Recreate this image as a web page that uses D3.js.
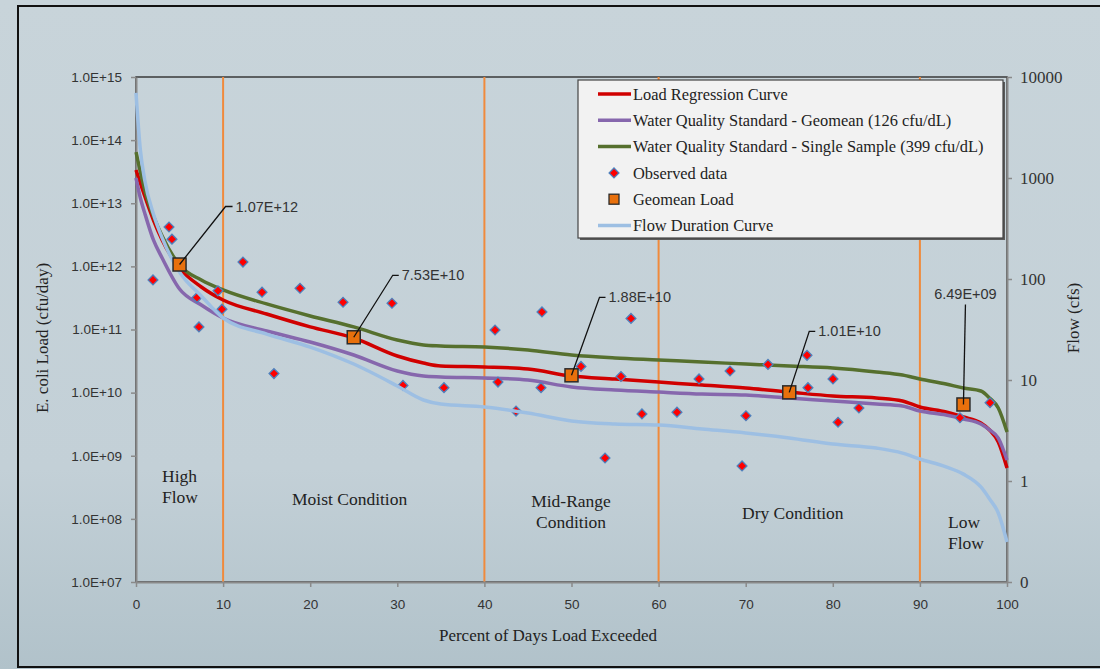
<!DOCTYPE html>
<html>
<head>
<meta charset="utf-8">
<script src="https://cdn.jsdelivr.net/npm/d3@7"></script>
<style>
  html, body { margin: 0; padding: 0; background: #c6d3d9; }
  svg { display: block; }
</style>
</head>
<body>
<div id="chart"></div>
<script>
// percent of days exceeded (shared grid for the curves)
const pctGrid = [0, 0.5, 1, 2, 3, 5, 7.5, 10, 15, 20, 25, 30, 33, 35, 40, 45, 50, 55, 60, 65, 70, 75, 80, 85, 88, 90, 93, 95, 97, 98, 99, 100];

// load curves (cfu/day)
const loadRegression = [3.36e13, 2.09e13, 1.30e13, 5.43e12, 2.62e12, 9.42e11, 4.71e11, 2.93e11, 1.76e11, 1.10e11, 7.33e10, 3.80e10, 2.94e10, 2.64e10, 2.55e10, 2.37e10, 1.83e10, 1.64e10, 1.47e10, 1.32e10, 1.18e10, 1.02e10, 8.85e9, 8.22e9, 7.37e9, 5.92e9, 4.93e9, 4.11e9, 3.30e9, 2.56e9, 1.65e9, 6.40e8];
const wqsGeomean = [2.51e13, 1.21e13, 7.01e12, 2.62e12, 1.36e12, 4.38e11, 2.44e11, 1.52e11, 9.46e10, 6.34e10, 3.94e10, 2.20e10, 1.83e10, 1.77e10, 1.71e10, 1.58e10, 1.23e10, 1.10e10, 1.02e10, 9.51e9, 9.17e9, 8.22e9, 7.37e9, 6.61e9, 6.14e9, 5.12e9, 4.43e9, 3.82e9, 3.18e9, 2.56e9, 1.91e9, 8.57e8];
const wqsSingle = [6.48e13, 3.13e13, 1.62e13, 6.28e12, 3.03e12, 1.05e12, 6.08e11, 4.23e11, 2.54e11, 1.64e11, 1.10e11, 6.82e10, 5.68e10, 5.48e10, 5.28e10, 4.73e10, 3.94e10, 3.54e10, 3.29e10, 3.05e10, 2.84e10, 2.64e10, 2.45e10, 2.12e10, 1.90e10, 1.64e10, 1.37e10, 1.18e10, 1.06e10, 8.22e9, 5.70e9, 2.38e9];

// flow duration curve (cfs), secondary axis
const flowCfs = [6950, 1893, 955, 440, 255, 117, 67.9, 41.1, 28.5, 21.2, 14.4, 8.73, 6.34, 5.78, 5.41, 4.71, 3.93, 3.67, 3.58, 3.27, 2.99, 2.67, 2.32, 2.12, 1.89, 1.65, 1.38, 1.17, 0.873, 0.664, 0.482, 0.249];

// observed samples
const obsPct = [1.95, 3.79, 4.13, 7.0, 7.23, 9.41, 9.87, 12.28, 14.47, 15.84, 18.83, 23.77, 29.39, 30.65, 35.36, 41.22, 41.56, 43.63, 46.61, 46.5, 51.09, 53.85, 55.68, 56.83, 58.09, 62.11, 64.64, 68.2, 70.03, 69.58, 72.56, 77.04, 77.15, 80.02, 80.6, 83.0, 94.6, 98.05];
const obsLoad = [6.1e11, 4.2e12, 2.7e12, 3.2e11, 1.1e11, 4.1e11, 2.1e11, 1.17e12, 3.9e11, 2.0e10, 4.5e11, 2.7e11, 2.6e11, 1.3e10, 1.2e10, 9.8e10, 1.47e10, 5.1e9, 1.9e11, 1.2e10, 2.6e10, 9.2e8, 1.8e10, 1.5e11, 4.6e9, 4.9e9, 1.65e10, 2.2e10, 4.3e9, 6.9e8, 2.8e10, 3.9e10, 1.2e10, 1.65e10, 3.4e9, 5.7e9, 4.0e9, 6.9e9];

// geomean load per flow regime
const geoPct = [5, 25, 50, 75, 95];
const geoLoad = [1.07e12, 7.53e10, 1.88e10, 1.01e10, 6.49e9];
const geoLabels = ["1.07E+12", "7.53E+10", "1.88E+10", "1.01E+10", "6.49E+09"];

// flow regime boundaries and names
const regimeBreaks = [10, 40, 60, 90];
const regimeNames = [["High", "Flow"], ["Moist Condition"], ["Mid-Range", "Condition"], ["Dry Condition"], ["Low", "Flow"]];

const xTicks = [0, 10, 20, 30, 40, 50, 60, 70, 80, 90, 100];
const loadTicks = [1e7, 1e8, 1e9, 1e10, 1e11, 1e12, 1e13, 1e14, 1e15];
const flowTicks = [0.1, 1, 10, 100, 1000, 10000];

const legendItems = ["Load Regression Curve", "Water Quality Standard - Geomean (126 cfu/dL)", "Water Quality Standard - Single Sample (399 cfu/dL)", "Observed data", "Geomean Load", "Flow Duration Curve"];

// ---------- drawing ----------
const width = 1100, height = 669;
const serif = "'Liberation Serif', 'DejaVu Serif', serif";
const sans = "'Liberation Sans', Arial, sans-serif";
const col = { red: "#d00000", purple: "#8667ad", green: "#56702e", flow: "#9dbfe3", orange: "#f08a3c" };

const svg = d3.select("#chart").append("svg").attr("width", width).attr("height", height);

const grad = svg.append("defs").append("linearGradient").attr("id", "bg").attr("x1", 0).attr("y1", 0).attr("x2", 0).attr("y2", 1);
grad.append("stop").attr("offset", "0%").attr("stop-color", "#c8d4da");
grad.append("stop").attr("offset", "70%").attr("stop-color", "#c3d0d7");
grad.append("stop").attr("offset", "100%").attr("stop-color", "#b1c2ca");

svg.append("rect").attr("width", width).attr("height", height).attr("fill", "url(#bg)");
// outer frame
svg.append("rect").attr("x", 18).attr("y", 6).attr("width", 1100).attr("height", 661)
  .attr("fill", "none").attr("stroke", "#111").attr("stroke-width", 2);

const plot = { left: 136, right: 1007, top: 77, bottom: 582 };

const x = d3.scaleLinear().domain([0, 100]).range([plot.left, plot.right]);
const yL = d3.scaleLog().domain([1e7, 1e15]).range([plot.bottom, plot.top]);
const yR = d3.scaleLog().domain([0.1, 10000]).range([plot.bottom, plot.top]);

// plot area border (top shows dark)
svg.append("rect").attr("x", plot.left).attr("y", plot.top)
  .attr("width", plot.right - plot.left).attr("height", plot.bottom - plot.top)
  .attr("fill", "none").attr("stroke", "#3a3a3a").attr("stroke-width", 1.5);

// regime separators
svg.selectAll(".sep").data(regimeBreaks).enter().append("line")
  .attr("x1", d => x(d)).attr("x2", d => x(d))
  .attr("y1", plot.top).attr("y2", plot.bottom)
  .attr("stroke", col.orange).attr("stroke-width", 2);

// axes
function styleAxis(g) {
  g.select(".domain").attr("stroke", "#8a8a8a").attr("stroke-width", 2);
  g.selectAll(".tick line").attr("stroke", "#8a8a8a").attr("stroke-width", 1.5);
  g.selectAll(".tick text").attr("fill", "#333");
}

const fmtExp = d => {
  const e = Math.round(Math.log10(d));
  return "1.0E+" + (e < 10 ? "0" + e : e);
};

svg.append("g").attr("transform", `translate(${plot.left},0)`)
  .call(d3.axisLeft(yL).tickValues(loadTicks).tickFormat(fmtExp).tickSize(5).tickSizeOuter(0).tickPadding(9))
  .call(styleAxis)
  .selectAll("text").attr("font-family", sans).attr("font-size", 13.5);

svg.append("g").attr("transform", `translate(0,${plot.bottom})`)
  .call(d3.axisBottom(x).tickValues(xTicks).tickFormat(d3.format("d")).tickSize(5).tickSizeOuter(0).tickPadding(12))
  .call(styleAxis)
  .selectAll("text").attr("font-family", sans).attr("font-size", 13.5);

svg.append("g").attr("transform", `translate(${plot.right},0)`)
  .call(d3.axisRight(yR).tickValues(flowTicks).tickFormat(d => d < 1 ? "0" : d3.format("d")(d)).tickSize(5).tickSizeOuter(0).tickPadding(8))
  .call(styleAxis)
  .selectAll("text").attr("font-family", serif).attr("font-size", 17);

// axis titles
svg.append("text").attr("transform", "translate(48,338) rotate(-90)")
  .attr("text-anchor", "middle").attr("font-family", serif).attr("font-size", 17).attr("fill", "#222")
  .text("E. coli Load (cfu/day)");
svg.append("text").attr("transform", "translate(1079,318) rotate(-90)")
  .attr("text-anchor", "middle").attr("font-family", serif).attr("font-size", 17).attr("fill", "#222")
  .text("Flow (cfs)");
svg.append("text").attr("x", 548).attr("y", 641)
  .attr("text-anchor", "middle").attr("font-family", serif).attr("font-size", 17).attr("fill", "#222")
  .text("Percent of Days Load Exceeded");

// regime labels
const regimePos = [
  { x: 162, y: 476, anchor: "start" },
  { x: 292, y: 499, anchor: "start" },
  { x: 571, y: 501, anchor: "middle" },
  { x: 742, y: 513, anchor: "start" },
  { x: 948, y: 522, anchor: "start" }
];
regimeNames.forEach((lines, i) => {
  const p = regimePos[i];
  const t = svg.append("text").attr("font-family", serif).attr("font-size", 17.5).attr("fill", "#222")
    .attr("text-anchor", p.anchor);
  lines.forEach((s, j) => {
    t.append("tspan").attr("x", p.x).attr("y", p.y + j * 21).attr("dy", "0.35em").text(s);
  });
});

// curves
const lineL = vals => d3.line().x((d, i) => x(pctGrid[i])).y(d => yL(d)).curve(d3.curveMonotoneX)(vals);
const lineR = vals => d3.line().x((d, i) => x(pctGrid[i])).y(d => yR(d)).curve(d3.curveMonotoneX)(vals);

svg.append("path").attr("d", lineL(loadRegression)).attr("fill", "none").attr("stroke", col.red).attr("stroke-width", 3.5);
svg.append("path").attr("d", lineL(wqsGeomean)).attr("fill", "none").attr("stroke", col.purple).attr("stroke-width", 3.5);
svg.append("path").attr("d", lineL(wqsSingle)).attr("fill", "none").attr("stroke", col.green).attr("stroke-width", 3.5);

// observed diamonds
const diamond = d3.symbol().type(d3.symbolSquare).size(48);
svg.selectAll(".obs").data(obsPct).enter().append("path")
  .attr("d", diamond)
  .attr("transform", (d, i) => `translate(${x(d)},${yL(obsLoad[i])}) rotate(45)`)
  .attr("fill", "#ff0000").attr("stroke", "#4f81bd").attr("stroke-width", 1.3);

// flow curve on secondary axis
svg.append("path").attr("d", lineR(flowCfs)).attr("fill", "none").attr("stroke", col.flow).attr("stroke-width", 3.5);

// geomean squares
svg.selectAll(".geo").data(geoPct).enter().append("rect")
  .attr("x", d => x(d) - 6.5).attr("y", (d, i) => yL(geoLoad[i]) - 6.5)
  .attr("width", 13).attr("height", 13)
  .attr("fill", "#e8700c").attr("stroke", "#2b2b2b").attr("stroke-width", 1.5);

// callouts: elbow offset from the square, then label
const callouts = [
  { dx: 46, dy: -58, tail: 7 },
  { dx: 39, dy: -62, tail: 6 },
  { dx: 28, dy: -78, tail: 6 },
  { dx: 20, dy: -61, tail: 6 },
  { dx: 2, dy: -100, tail: 0 }
];
geoPct.forEach((p, i) => {
  const cx = x(p), cy = yL(geoLoad[i]);
  const c = callouts[i];
  const ex = cx + c.dx, ey = cy + c.dy;
  svg.append("path")
    .attr("d", `M${cx},${cy}L${ex},${ey}L${ex + c.tail},${ey}`)
    .attr("fill", "none").attr("stroke", "#111").attr("stroke-width", 1.3);
  const t = svg.append("text").attr("font-family", sans).attr("font-size", 14.5).attr("fill", "#333");
  if (c.tail > 0) {
    t.attr("x", ex + c.tail + 3).attr("y", ey).attr("dy", "0.35em").text(geoLabels[i]);
  } else {
    t.attr("x", ex).attr("y", ey - 11).attr("text-anchor", "middle").attr("dy", "0.35em").text(geoLabels[i]);
  }
});

// legend
const lg = svg.append("g").attr("transform", "translate(578,80)");
lg.append("rect").attr("x", 2).attr("y", 2).attr("width", 425).attr("height", 158).attr("fill", "#5a5a5a");
lg.append("rect").attr("width", 425).attr("height", 158).attr("fill", "#f2f2f2").attr("stroke", "#444").attr("stroke-width", 1.2);
const legendStyle = [
  { type: "line", color: col.red },
  { type: "line", color: col.purple },
  { type: "line", color: col.green },
  { type: "diamond" },
  { type: "square" },
  { type: "line", color: col.flow }
];
legendItems.forEach((name, i) => {
  const yy = 14 + i * 26.3;
  const s = legendStyle[i];
  if (s.type === "line") {
    lg.append("line").attr("x1", 20).attr("x2", 53).attr("y1", yy).attr("y2", yy)
      .attr("stroke", s.color).attr("stroke-width", 3.5);
  } else if (s.type === "diamond") {
    lg.append("path").attr("d", diamond)
      .attr("transform", `translate(36,${yy}) rotate(45)`)
      .attr("fill", "#ff0000").attr("stroke", "#4f81bd").attr("stroke-width", 1.3);
  } else {
    lg.append("rect").attr("x", 31).attr("y", yy - 5).attr("width", 10).attr("height", 10)
      .attr("fill", "#e8700c").attr("stroke", "#2b2b2b").attr("stroke-width", 1.3);
  }
  lg.append("text").attr("x", 55).attr("y", yy).attr("dy", "0.35em")
    .attr("font-family", serif).attr("font-size", 16.4).attr("fill", "#222").text(name);
});
</script>
</body>
</html>
